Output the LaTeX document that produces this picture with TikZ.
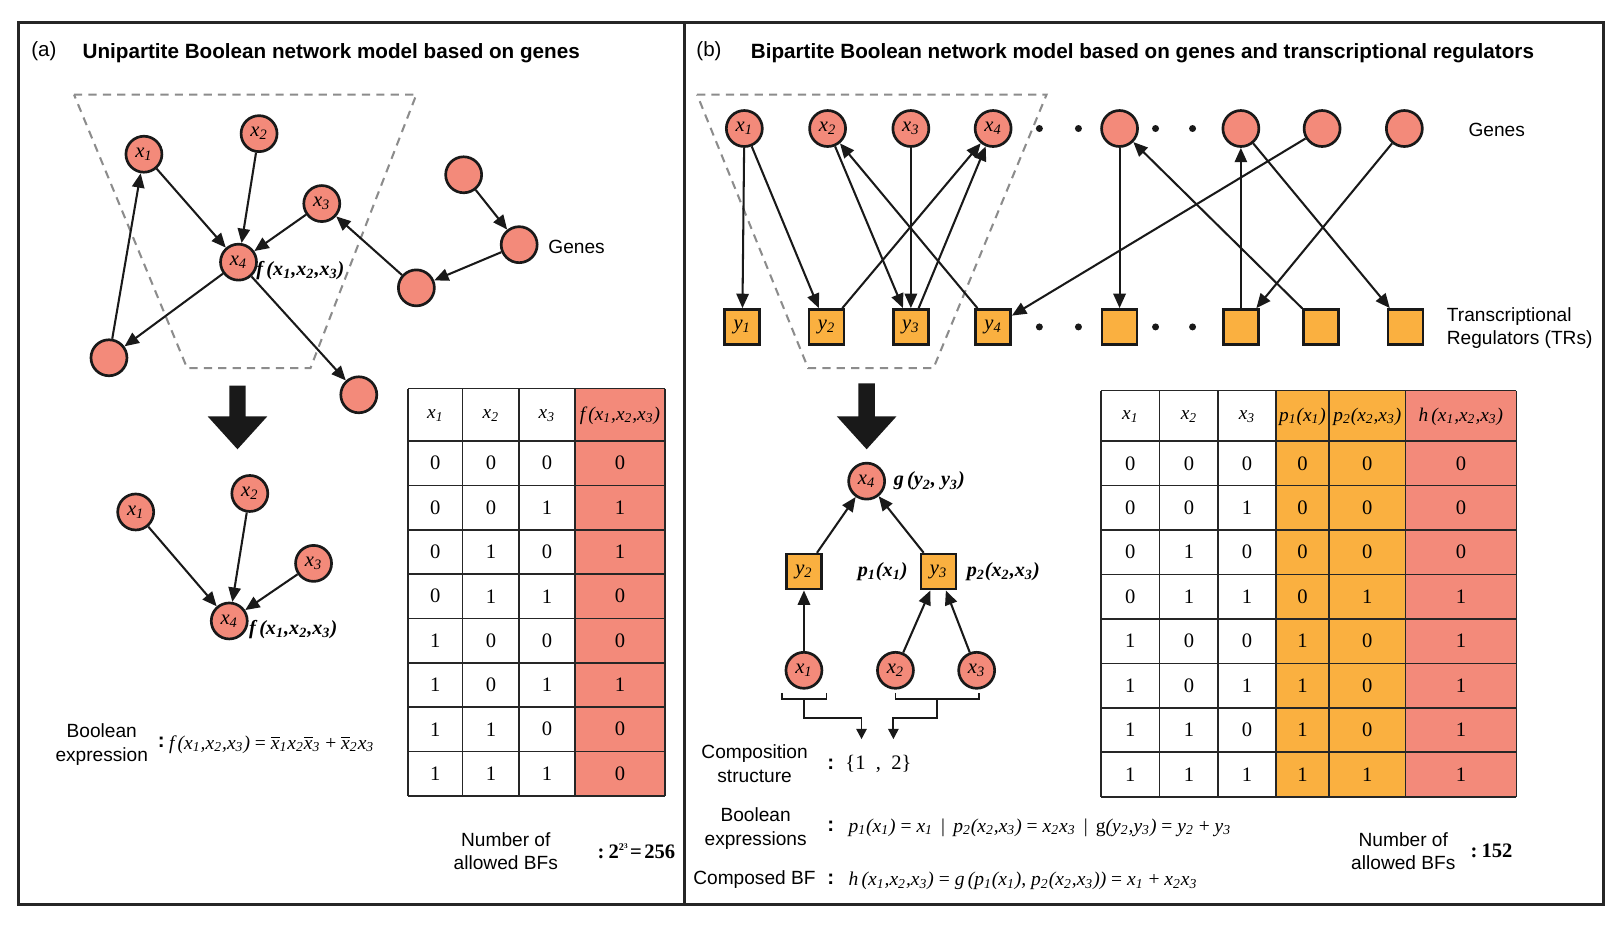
\documentclass[tikz,border=0pt]{standalone}
\usepackage{fontspec}
\setmainfont{Liberation Sans}
\newfontfamily\tms{Liberation Serif}
\usetikzlibrary{arrows.meta}
\definecolor{salmon}{RGB}{243,138,122}
\definecolor{orng}{RGB}{250,176,64}
\newcommand{\xs}[2]{#1\textsubscript{#2}}
\newcommand{\ob}[2]{$\overline{\hbox{#1}}$\textsubscript{#2}}
\newcommand{\mi}{\tms\itshape}
\tikzset{
  gene/.style={circle, draw=black!90, line width=1.3pt, fill=salmon, minimum size=17.5pt, inner sep=0pt, font=\fontsize{10}{12}\selectfont\mi},
  tr/.style={rectangle, draw=black!90, line width=1.3pt, fill=orng, minimum size=17pt, inner sep=0pt, font=\fontsize{10}{12}\selectfont\mi},
  edge/.style={line width=1pt, black!90, -{Triangle[length=7pt,width=6pt]}},
  brk/.style={line width=0.9pt, black!90},
  brka/.style={line width=0.9pt, black!90, -{Triangle[length=5pt,width=5pt]}},
  sans/.style={font=\fontsize{9.3}{11.5}\selectfont, align=center, inner sep=0pt},
  ttl/.style={font=\fontsize{10.05}{12}\selectfont\bfseries, anchor=west, inner sep=0pt},
  cell/.style={font=\fontsize{10}{12}\selectfont\tms, inner sep=0pt},
  head/.style={font=\fontsize{9.4}{12}\selectfont\mi, inner sep=0pt},
  lbl/.style={font=\fontsize{9.8}{12}\selectfont\tms\bfseries\itshape, anchor=west, inner sep=0pt},
  expr/.style={font=\fontsize{9.5}{12}\selectfont\mi, anchor=west, inner sep=0pt},
  colon/.style={font=\fontsize{10}{12}\selectfont\bfseries, inner sep=0pt},
  dashbox/.style={draw=black!45, dash pattern=on 4pt off 3pt, line width=1pt},
  grid/.style={draw=black!85, line width=0.8pt},
  bigarrow/.style={fill=black!90},
  dotm/.style={fill=black!90},
  count/.style={anchor=west, inner sep=0pt, font=\fontsize{10}{13}\selectfont\tms\bfseries}
}
\begin{document}
\begin{tikzpicture}[x=0.5pt, y=-0.5pt]
\useasboundingbox (0,0) rectangle (1568,906);
% frame
\draw[line width=1.3pt, black!85] (18,22) rectangle (1560,880);
\draw[line width=1.3pt, black!85] (666,22) -- (666,880);

% ================= panel (a) =================
\node[anchor=west, inner sep=0pt, font=\fontsize{10}{12}\selectfont] (la) at (30,50) {(a)};
\node[ttl] (ta) at (80,52) {Unipartite Boolean network model based on genes};
\draw[dashbox] (72,92) -- (405,92) -- (302,358) -- (182,358) -- cycle;

\node[gene] (a1) at (140,150) {\xs{x}{1}};
\node[gene] (a2) at (252,130) {\xs{x}{2}};
\node[gene] (a3) at (313,198) {\xs{x}{3}};
\node[gene] (a4) at (232,255) {\xs{x}{4}};
\node[gene] (a5) at (451,170) {};
\node[gene] (a6) at (505,238) {};
\node[gene] (a7) at (405,280) {};
\node[gene] (a8) at (106,348) {};
\node[gene] (a9) at (349,384) {};
\draw[edge] (a1) -- (a4);
\draw[edge] (a2) -- (a4);
\draw[edge] (a3) -- (a4);
\draw[edge] (a4) -- (a8);
\draw[edge] (a8) -- (a1);
\draw[edge] (a4) -- (a9);
\draw[edge] (a7) -- (a3);
\draw[edge] (a5) -- (a6);
\draw[edge] (a6) -- (a7);
\node[lbl] (fa) at (249,263) {f\,(\xs{x}{1},\xs{x}{2},\xs{x}{3})};
\node[sans, anchor=west] (genesa) at (533,240) {Genes};

\fill[bigarrow] (223,375) -- (239,375) -- (239,405) -- (260,405) -- (231,437) -- (202,405) -- (223,405) -- cycle;

\node[gene] (b1) at (132,498) {\xs{x}{1}};
\node[gene] (b2) at (243,480) {\xs{x}{2}};
\node[gene] (b3) at (305,548) {\xs{x}{3}};
\node[gene] (b4) at (223,604) {\xs{x}{4}};
\draw[edge] (b1) -- (b4);
\draw[edge] (b2) -- (b4);
\draw[edge] (b3) -- (b4);
\node[lbl] (fb) at (242,612) {f\,(\xs{x}{1},\xs{x}{2},\xs{x}{3})};

\node[sans] (bea) at (99,724) {Boolean\\expression};
\node[colon] (ca1) at (157,722) {:};
\node[expr] (ea) at (164,724) {f\,(\xs{x}{1},\xs{x}{2},\xs{x}{3}) {\upshape=} \ob{x}{1}\xs{x}{2}\ob{x}{3} {\upshape+} \ob{x}{2}\xs{x}{3}};

% table (a)
\fill[salmon] (559,378) rectangle (647,774);
\foreach \c in {397,450,505,559,647} \draw[grid] (\c,378) -- (\c,774);
\draw[grid] (397,378) -- (647,378);
\foreach \i in {0,...,8} \draw[grid] (397,429+43.125*\i) -- (647,429+43.125*\i);
\node[head] (tah1) at (423.5,404) {\xs{x}{1}};
\node[head] (tah2) at (477.5,404) {\xs{x}{2}};
\node[head] (tah3) at (532,404) {\xs{x}{3}};
\node[head] (tah4) at (603,404) {f\,(\xs{x}{1},\xs{x}{2},\xs{x}{3})};
\foreach \p/\q/\r/\s [count=\i] in {0/0/0/0,0/0/1/1,0/1/0/1,0/1/1/0,1/0/0/0,1/0/1/1,1/1/0/0,1/1/1/0} {
  \pgfmathsetmacro\yy{429+43.125*(\i-0.5)}
  \node[cell] (ta-\i-1) at (423.5,\yy) {\p};
  \node[cell] (ta-\i-2) at (477.5,\yy) {\q};
  \node[cell] (ta-\i-3) at (532,\yy) {\r};
  \node[cell] (ta-\i-4) at (603,\yy) {\s};
}
\node[sans] (nba) at (492,828) {Number of\\allowed BFs};
\node[count] (va) at (581,828) {:\kern2pt 2\raisebox{0.85ex}{\fontsize{5}{6}\selectfont 2\raisebox{0.55ex}{\fontsize{3.5}{4}\selectfont 3}}\kern1.2pt=\kern1.2pt256};

% ================= panel (b) =================
\node[anchor=west, inner sep=0pt, font=\fontsize{10}{12}\selectfont] (lb) at (677,50) {(b)};
\node[ttl] (tb) at (730,52) {Bipartite Boolean network model based on genes and transcriptional regulators};
\draw[dashbox] (678,92) -- (1018,92) -- (908,358) -- (786,358) -- cycle;

\node[gene] (g1) at (724,125) {\xs{x}{1}};
\node[gene] (g2) at (805,125) {\xs{x}{2}};
\node[gene] (g3) at (886,125) {\xs{x}{3}};
\node[gene] (g4) at (966,125) {\xs{x}{4}};
\node[gene] (g5) at (1089,125) {};
\node[gene] (g6) at (1207,125) {};
\node[gene] (g7) at (1286,125) {};
\node[gene] (g8) at (1366,125) {};
\node[tr] (t1) at (722,318) {\xs{y}{1}};
\node[tr] (t2) at (804,318) {\xs{y}{2}};
\node[tr] (t3) at (886,318) {\xs{y}{3}};
\node[tr] (t4) at (966,318) {\xs{y}{4}};
\node[tr] (t5) at (1089,318) {};
\node[tr] (t6) at (1207,318) {};
\node[tr] (t7) at (1285,318) {};
\node[tr] (t8) at (1367,318) {};
\foreach \d in {1011,1049,1124,1160} {
  \fill[dotm] (\d,125) circle (1.7pt);
  \fill[dotm] (\d,318) circle (1.7pt);
}
\draw[edge] (g1) -- (t1);
\draw[edge] (g1) -- (t2);
\draw[edge] (g2) -- (t3);
\draw[edge] (t4) -- (g2);
\draw[edge] (g3) -- (t3);
\draw[edge] (t2) -- (g4);
\draw[edge] (t3) -- (g4);
\draw[edge] (g5) -- (t5);
\draw[edge] (t7) -- (g5);
\draw[edge] (t6) -- (g6);
\draw[edge] (g6) -- (t8);
\draw[edge] (g7) -- (t4);
\draw[edge] (g8) -- (t6);
\node[sans, anchor=west] (genesb) at (1428,126) {Genes};
\node[sans, anchor=west, align=left] (trs) at (1407,319) {Transcriptional\\Regulators (TRs)};

\fill[bigarrow] (835,373) -- (851,373) -- (851,405) -- (872,405) -- (843,437) -- (814,405) -- (835,405) -- cycle;

\node[gene] (c4) at (843,468) {\xs{x}{4}};
\node[tr] (c2) at (782,556) {\xs{y}{2}};
\node[tr] (c3) at (913,556) {\xs{y}{3}};
\node[gene] (c1) at (782,652) {\xs{x}{1}};
\node[gene] (c5) at (871,652) {\xs{x}{2}};
\node[gene] (c6) at (950,652) {\xs{x}{3}};
\draw[edge] (c2) -- (c4);
\draw[edge] (c3) -- (c4);
\draw[edge] (c1) -- (c2);
\draw[edge] (c5) -- (c3);
\draw[edge] (c6) -- (c3);
\node[lbl] (gl) at (869,468) {g\,(\xs{y}{2}, \xs{y}{3})};
\node[lbl] (pl1) at (834,556) {\xs{p}{1}(\xs{x}{1})};
\node[lbl] (pl2) at (940,556) {\xs{p}{2}(\xs{x}{2},\xs{x}{3})};

% brackets
\coordinate (bl1) at (761,674); \coordinate (bl2) at (761,680);
\coordinate (bl3) at (804,680); \coordinate (bl4) at (804,674);
\coordinate (bls) at (782,680); \coordinate (blm) at (782,698);
\coordinate (blc) at (838,698); \coordinate (blt) at (838,719);
\draw[brk] (bl1) -- (bl2) -- (bl3) -- (bl4);
\draw[brka] (bls) -- (blm) -- (blc) -- (blt);
\coordinate (br1) at (871,674); \coordinate (br2) at (871,680);
\coordinate (br3) at (952,680); \coordinate (br4) at (952,674);
\coordinate (brs) at (911,680); \coordinate (brm) at (911,698);
\coordinate (brc) at (869,698); \coordinate (brt) at (869,719);
\draw[brk] (br1) -- (br2) -- (br3) -- (br4);
\draw[brka] (brs) -- (brm) -- (brc) -- (brt);

\node[sans] (cs) at (734,743) {Composition\\structure};
\node[colon] (cb1) at (808,743) {:};
\node[anchor=west, inner sep=0pt, font=\fontsize{10}{12}\selectfont\tms] (cset) at (822,743) {\{1\ \ ,\ \ 2\}};
\node[sans] (bes) at (735,806) {Boolean\\expressions};
\node[colon] (cb2) at (808,804) {:};
\node[expr] (eb1) at (825,805) {\xs{p}{1}(\xs{x}{1}) {\upshape=} \xs{x}{1}\ \,{\upshape|}\ \,\xs{p}{2}(\xs{x}{2},\xs{x}{3}) {\upshape=} \xs{x}{2}\xs{x}{3}\ \,{\upshape|}\ \,{\upshape g}(\xs{y}{2},\xs{y}{3}) {\upshape=} \xs{y}{2} {\upshape+} \xs{y}{3}};
\node[sans, anchor=west] (cbf) at (674,856) {Composed BF};
\node[colon] (cb3) at (808,855) {:};
\node[expr] (eb2) at (825,857) {h\,(\xs{x}{1},\xs{x}{2},\xs{x}{3}) {\upshape=} g\,(\xs{p}{1}(\xs{x}{1}), \xs{p}{2}(\xs{x}{2},\xs{x}{3})) {\upshape=} \xs{x}{1} {\upshape+} \xs{x}{2}\xs{x}{3}};

% table (b)
\fill[orng] (1241,380) rectangle (1367,775);
\fill[salmon] (1367,380) rectangle (1475,775);
\foreach \c in {1071,1128,1185,1241,1293,1367,1475} \draw[grid] (\c,380) -- (\c,775);
\draw[grid] (1071,380) -- (1475,380);
\foreach \i in {0,...,8} \draw[grid] (1071,429+43.25*\i) -- (1475,429+43.25*\i);
\node[head] (tbh1) at (1099.5,405) {\xs{x}{1}};
\node[head] (tbh2) at (1156.5,405) {\xs{x}{2}};
\node[head] (tbh3) at (1213,405) {\xs{x}{3}};
\node[head] (tbh4) at (1267,405) {\xs{p}{1}(\xs{x}{1})};
\node[head] (tbh5) at (1330,405) {\xs{p}{2}(\xs{x}{2},\xs{x}{3})};
\node[head] (tbh6) at (1421,405) {h\,(\xs{x}{1},\xs{x}{2},\xs{x}{3})};
\foreach \p/\q/\r/\s/\t/\u [count=\i] in {0/0/0/0/0/0,0/0/1/0/0/0,0/1/0/0/0/0,0/1/1/0/1/1,1/0/0/1/0/1,1/0/1/1/0/1,1/1/0/1/0/1,1/1/1/1/1/1} {
  \pgfmathsetmacro\yy{429+43.25*(\i-0.5)}
  \node[cell] (tb-\i-1) at (1099.5,\yy) {\p};
  \node[cell] (tb-\i-2) at (1156.5,\yy) {\q};
  \node[cell] (tb-\i-3) at (1213,\yy) {\r};
  \node[cell] (tb-\i-4) at (1267,\yy) {\s};
  \node[cell] (tb-\i-5) at (1330,\yy) {\t};
  \node[cell] (tb-\i-6) at (1421,\yy) {\u};
}
\node[sans] (nbb) at (1365,828) {Number of\\allowed BFs};
\node[count] (vb) at (1430,828) {:\kern2pt 152};
\end{tikzpicture}
\end{document}
